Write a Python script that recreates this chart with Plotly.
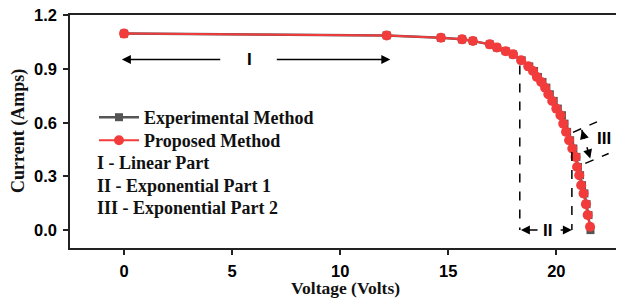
import plotly.graph_objects as go

voltage = [0, 12.15, 14.66, 15.64, 16.14, 16.92, 17.25, 17.66, 18.0, 18.37, 18.7, 18.92,
           19.1, 19.3, 19.48, 19.63, 19.81, 20.0, 20.19, 20.32, 20.45, 20.59, 20.74, 20.89,
           20.96, 21.06, 21.15, 21.26, 21.37, 21.45, 21.56]
current_proposed = [1.098, 1.088, 1.075, 1.066, 1.057, 1.038, 1.02, 1.00, 0.982, 0.949, 0.915,
                    0.889, 0.856, 0.828, 0.796, 0.759, 0.722, 0.679, 0.642, 0.595, 0.549, 0.502,
                    0.456, 0.409, 0.353, 0.307, 0.251, 0.205, 0.145, 0.084, 0.019]
voltage_exp = [0, 12.15, 14.66, 15.64, 16.14, 16.92, 17.25, 17.66, 18.0, 18.4, 18.75, 18.97,
               19.15, 19.36, 19.54, 19.7, 19.88, 20.07, 20.26, 20.38, 20.5, 20.64, 20.79, 20.93,
               21.0, 21.1, 21.19, 21.3, 21.4, 21.49, 21.58]
current_exp = [1.098, 1.088, 1.075, 1.066, 1.057, 1.038, 1.02, 1.00, 0.982, 0.949, 0.915,
               0.889, 0.856, 0.828, 0.796, 0.759, 0.722, 0.679, 0.642, 0.595, 0.549, 0.502,
               0.456, 0.409, 0.353, 0.307, 0.251, 0.205, 0.145, 0.084, 0.0]

x_ticks = [0, 5, 10, 15, 20]
y_ticks = [0.0, 0.3, 0.6, 0.9, 1.2]
note_lines = ["I - Linear Part", "II - Exponential Part 1", "III - Exponential Part 2"]

serif = "Liberation Serif"
sans = "Liberation Sans"
red = "#f23c3c"
gray = "#555555"

# page body has an 8px margin: size the figure so it fits the 624x299 window
W, H = 616, 291
L, T = 62, 7
R, B = 5, 51
# plot box in window pixels: x 70..619, y 15..248
def px(sx):
    return (sx - 70) / 549.0
def py(sy):
    return (248 - sy) / 233.0

fig = go.Figure()
fig.add_trace(go.Scatter(x=voltage_exp, y=current_exp, mode="lines+markers",
                         name="Experimental Method", legend="legend",
                         line=dict(color=gray, width=2.5),
                         marker=dict(symbol="square", size=8, color=gray)))
fig.add_trace(go.Scatter(x=voltage, y=current_proposed, mode="lines+markers",
                         name="Proposed Method", legend="legend2",
                         line=dict(color=red, width=2),
                         marker=dict(symbol="circle", size=10, color=red)))

region_I_y = 0.954
arrows = [
    (-0.1, region_I_y, 4.52, region_I_y),
    (12.32, region_I_y, 7.0, region_I_y),
    (18.36, 0.0, 19.2, 0.0),
    (20.72, 0.0, 20.13, 0.0),
    (21.18, 0.559, 21.24, 0.535),
    (21.57, 0.40, 21.51, 0.424),
]
anns = []
for (x, y, ax, ay) in arrows:
    anns.append(dict(x=x, y=y, ax=ax, ay=ay, xref="x", yref="y", axref="x", ayref="y",
                     text="", showarrow=True, arrowhead=2, arrowsize=1.2,
                     arrowwidth=1.5, arrowcolor="black"))

for txt, x, y in [("I", 5.8, region_I_y), ("II", 19.6, 0.0), ("III", 22.2, 0.514)]:
    anns.append(dict(x=x, y=y, xref="x", yref="y", text=txt, showarrow=False,
                     font=dict(family=sans, size=17, color="black", weight="bold")))

for i, txt in enumerate(note_lines):
    anns.append(dict(x=px(95), y=py(163 + 22.5 * i), xref="paper", yref="paper", text=txt,
                     showarrow=False, xanchor="left", yanchor="middle",
                     font=dict(family=serif, size=18, color="#111", weight="bold")))

# axis titles
anns.append(dict(x=px(345), y=py(288), xref="paper", yref="paper", text="Voltage (Volts)",
                 showarrow=False, xanchor="center", yanchor="middle",
                 font=dict(family=serif, size=17.5, color="#111", weight="bold")))
anns.append(dict(x=px(19), y=py(131), xref="paper", yref="paper", text="Current (Amps)",
                 showarrow=False, xanchor="center", yanchor="middle", textangle=-90,
                 font=dict(family=serif, size=18, color="#111", weight="bold")))

dash = dict(color="black", width=1.5, dash="dash")
shapes = [
    dict(type="line", xref="x", yref="y", x0=18.31, y0=0.92, x1=18.31, y1=0.0, line=dash),
    dict(type="line", xref="x", yref="y", x0=20.72, y0=0.437, x1=20.72, y1=0.0, line=dash),
    dict(type="line", xref="x", yref="y", x0=20.77, y0=0.546, x1=21.88, y1=0.605, line=dash),
    dict(type="line", xref="x", yref="y", x0=21.34, y0=0.373, x1=22.42, y1=0.428, line=dash),
    dict(type="line", xref="x", yref="y", x0=21.18, y0=0.559, x1=21.57, y1=0.40, line=dash),
]

legend_font = dict(family=serif, size=18, color="#111", weight="bold")
fig.update_layout(
    width=W, height=H,
    margin=dict(l=L, r=R, t=T, b=B, autoexpand=False),
    paper_bgcolor="white", plot_bgcolor="white",
    annotations=anns, shapes=shapes,
    showlegend=True,
    legend=dict(x=px(94), y=py(99), xanchor="left", yanchor="top",
                bgcolor="rgba(0,0,0,0)", font=legend_font, itemwidth=40),
    legend2=dict(x=px(94), y=py(122), xanchor="left", yanchor="top",
                 bgcolor="rgba(0,0,0,0)", font=legend_font, itemwidth=40),
    xaxis=dict(range=[-2.5, 22.9], tickvals=x_ticks, ticktext=[str(v) for v in x_ticks],
               showgrid=False, zeroline=False, showline=True, linecolor="#222",
               linewidth=1.5, mirror=True, ticks="outside", ticklen=5, tickwidth=1.5,
               tickcolor="#222", automargin=False, ticklabelstandoff=2,
               ticklabeloverflow="allow",
               tickfont=dict(family=sans, size=16.5, color="black", weight="bold")),
    yaxis=dict(range=[-0.1, 1.202], tickvals=y_ticks, ticktext=[f"{v:.1f}" for v in y_ticks],
               showgrid=False, zeroline=False, showline=True, linecolor="#222",
               linewidth=1.5, mirror=True, ticks="outside", ticklen=5, tickwidth=1.5,
               tickcolor="#222", automargin=False, ticklabelstandoff=3,
               ticklabeloverflow="allow",
               tickfont=dict(family=sans, size=16.5, color="black", weight="bold")),
)

fig.write_html("out.html")
